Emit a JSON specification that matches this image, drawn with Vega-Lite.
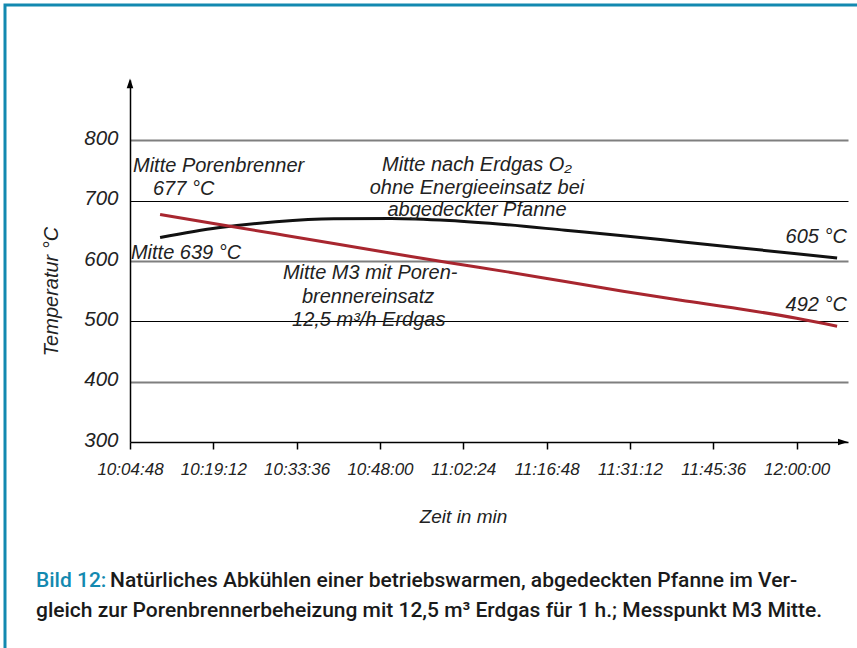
{
  "$schema": "https://vega.github.io/schema/vega-lite/v6.json",
  "width": 852,
  "height": 643,
  "autosize": {"type": "none"},
  "padding": {"left": 5, "top": 5, "right": 0, "bottom": 0},
  "background": "white",
  "config": {
    "view": {"stroke": "#1389b0", "strokeWidth": 3, "strokeDash": [852, 1495, 643]},
    "font": "Liberation Sans",
    "axis": {"labelFontStyle": "italic", "titleFontStyle": "italic"}
  },
  "layer": [
    {
      "data": {"values": [
        {"t": "2020-01-01T10:10:00", "v": 639, "s": "ohne"},
        {"t": "2020-01-01T10:20:00", "v": 655, "s": "ohne"},
        {"t": "2020-01-01T10:30:00", "v": 665, "s": "ohne"},
        {"t": "2020-01-01T10:40:00", "v": 670, "s": "ohne"},
        {"t": "2020-01-01T10:50:00", "v": 670.5, "s": "ohne"},
        {"t": "2020-01-01T11:00:00", "v": 667, "s": "ohne"},
        {"t": "2020-01-01T11:10:00", "v": 660, "s": "ohne"},
        {"t": "2020-01-01T11:20:00", "v": 651, "s": "ohne"},
        {"t": "2020-01-01T11:30:00", "v": 642, "s": "ohne"},
        {"t": "2020-01-01T11:40:00", "v": 632, "s": "ohne"},
        {"t": "2020-01-01T11:50:00", "v": 622, "s": "ohne"},
        {"t": "2020-01-01T12:00:00", "v": 612, "s": "ohne"},
        {"t": "2020-01-01T12:07:00", "v": 605, "s": "ohne"},
        {"t": "2020-01-01T10:10:00", "v": 677, "s": "mit"},
        {"t": "2020-01-01T10:20:00", "v": 661, "s": "mit"},
        {"t": "2020-01-01T10:30:00", "v": 645, "s": "mit"},
        {"t": "2020-01-01T10:40:00", "v": 629, "s": "mit"},
        {"t": "2020-01-01T10:50:00", "v": 613, "s": "mit"},
        {"t": "2020-01-01T11:00:00", "v": 597, "s": "mit"},
        {"t": "2020-01-01T11:10:00", "v": 582, "s": "mit"},
        {"t": "2020-01-01T11:20:00", "v": 566, "s": "mit"},
        {"t": "2020-01-01T11:30:00", "v": 550, "s": "mit"},
        {"t": "2020-01-01T11:40:00", "v": 535, "s": "mit"},
        {"t": "2020-01-01T11:50:00", "v": 521, "s": "mit"},
        {"t": "2020-01-01T12:00:00", "v": 505, "s": "mit"},
        {"t": "2020-01-01T12:07:00", "v": 492, "s": "mit"}
      ]},
      "mark": {"type": "line", "strokeWidth": 3, "interpolate": "monotone"},
      "encoding": {
        "x": {
          "field": "t", "type": "temporal",
          "scale": {
            "domain": [
              {"year": 2020, "month": 1, "date": 1, "hours": 10, "minutes": 4, "seconds": 48},
              {"year": 2020, "month": 1, "date": 1, "hours": 12, "minutes": 8, "seconds": 53}
            ],
            "range": [125, 843], "nice": false
          },
          "axis": {
            "values": [
              {"year": 2020, "month": 1, "date": 1, "hours": 10, "minutes": 4, "seconds": 48},
              {"year": 2020, "month": 1, "date": 1, "hours": 10, "minutes": 19, "seconds": 12},
              {"year": 2020, "month": 1, "date": 1, "hours": 10, "minutes": 33, "seconds": 36},
              {"year": 2020, "month": 1, "date": 1, "hours": 10, "minutes": 48, "seconds": 0},
              {"year": 2020, "month": 1, "date": 1, "hours": 11, "minutes": 2, "seconds": 24},
              {"year": 2020, "month": 1, "date": 1, "hours": 11, "minutes": 16, "seconds": 48},
              {"year": 2020, "month": 1, "date": 1, "hours": 11, "minutes": 31, "seconds": 12},
              {"year": 2020, "month": 1, "date": 1, "hours": 11, "minutes": 45, "seconds": 36},
              {"year": 2020, "month": 1, "date": 1, "hours": 12, "minutes": 0, "seconds": 0}
            ],
            "format": "%H:%M:%S",
            "orient": "bottom",
            "offset": -206,
            "grid": false,
            "domainColor": "#000000", "domainWidth": 1.5,
            "tickColor": "#000000", "tickWidth": 1.5, "tickSize": 7,
            "labelFont": "Liberation Sans", "labelFontStyle": "italic", "labelFontSize": 17,
            "labelColor": "#222222", "labelPadding": 12, "labelAngle": 0,
            "labelOverlap": false, "labelFlush": false,
            "title": "Zeit in min",
            "titleFont": "Liberation Sans", "titleFontStyle": "italic", "titleFontWeight": "normal",
            "titleFontSize": 19, "titleColor": "#222222",
            "titleX": 458, "titleY": 80, "titleBaseline": "alphabetic", "titleAlign": "center"
          }
        },
        "y": {
          "field": "v", "type": "quantitative",
          "scale": {"domain": [300, 900], "range": [437, 75], "nice": false, "zero": false},
          "axis": {
            "values": [300, 400, 500, 600, 700, 800],
            "orient": "left",
            "offset": -125,
            "grid": true,
            "gridColor": {"condition": {"test": "datum.value == 400 || datum.value == 600 || datum.value == 800", "value": "#7f7f7f"}, "value": "#000000"},
            "gridWidth": {"condition": {"test": "datum.value == 400 || datum.value == 600 || datum.value == 800", "value": 2.2}, "value": 1.2},
            "gridOpacity": {"condition": {"test": "datum.value == 300", "value": 0}, "value": 1},
            "domainColor": "#000000", "domainWidth": 1.5,
            "ticks": false, "tickSize": 0,
            "labelFont": "Liberation Sans", "labelFontStyle": "italic", "labelFontSize": 20.5,
            "labelColor": "#222222", "labelPadding": 12,
            "labelBaseline": "alphabetic", "labelOffset": 4,
            "title": "Temperatur °C",
            "titleFont": "Liberation Sans", "titleFontStyle": "italic", "titleFontWeight": "normal",
            "titleFontSize": 20, "titleColor": "#222222",
            "titleAngle": 270, "titleX": -73, "titleY": 286, "titleBaseline": "alphabetic", "titleAlign": "center"
          }
        },
        "color": {
          "field": "s", "type": "nominal",
          "scale": {"domain": ["ohne", "mit"], "range": ["#111111", "#a8262f"]},
          "legend": null
        }
      }
    },
    {
      "data": {"values": [{"t": "2020-01-01T10:04:48", "v": 893.5}]},
      "mark": {"type": "point", "filled": true, "color": "#000000", "opacity": 1, "size": 121, "shape": "M0,-1L0.6,0.8L-0.6,0.8Z"},
      "encoding": {"x": {"field": "t", "type": "temporal"}, "y": {"field": "v", "type": "quantitative"}}
    },
    {
      "data": {"values": [{"t": "2020-01-01T12:07:55", "v": 300}]},
      "mark": {"type": "point", "filled": true, "color": "#000000", "opacity": 1, "size": 121, "shape": "M1,0L-0.8,0.6L-0.8,-0.6Z"},
      "encoding": {"x": {"field": "t", "type": "temporal"}, "y": {"field": "v", "type": "quantitative"}}
    },
    {
      "data": {"values": [
        {"t": "2020-01-01T10:05:19", "v": 747.8, "label": "Mitte Porenbrenner"},
        {"t": "2020-01-01T10:08:46", "v": 709.6, "label": "677 °C"},
        {"t": "2020-01-01T10:04:58", "v": 603.5, "label": "Mitte 639 °C"},
        {"t": "2020-01-01T10:31:14", "v": 570.3, "label": "Mitte M3 mit Poren-"},
        {"t": "2020-01-01T10:34:31", "v": 530.5, "label": "brennereinsatz"},
        {"t": "2020-01-01T10:32:48", "v": 492.4, "label": "12,5 m³/h Erdgas"}
      ]},
      "mark": {"type": "text", "align": "left", "baseline": "alphabetic", "font": "Liberation Sans", "fontStyle": "italic", "fontSize": 20, "color": "#222222"},
      "encoding": {"x": {"field": "t", "type": "temporal"}, "y": {"field": "v", "type": "quantitative"}, "text": {"field": "label"}}
    },
    {
      "data": {"values": [
        {"t": "2020-01-01T11:04:46", "v": 748.6, "label": "Mitte nach Erdgas O₂"},
        {"t": "2020-01-01T11:04:46", "v": 711.3, "label": "ohne Energieeinsatz bei"},
        {"t": "2020-01-01T11:04:46", "v": 674.8, "label": "abgedeckter Pfanne"}
      ]},
      "mark": {"type": "text", "align": "center", "baseline": "alphabetic", "font": "Liberation Sans", "fontStyle": "italic", "fontSize": 20, "color": "#222222"},
      "encoding": {"x": {"field": "t", "type": "temporal"}, "y": {"field": "v", "type": "quantitative"}, "text": {"field": "label"}}
    },
    {
      "data": {"values": [
        {"t": "2020-01-01T12:08:42", "v": 630, "label": "605 °C"},
        {"t": "2020-01-01T12:08:42", "v": 516.4, "label": "492 °C"}
      ]},
      "mark": {"type": "text", "align": "right", "baseline": "alphabetic", "font": "Liberation Sans", "fontStyle": "italic", "fontSize": 20, "color": "#222222"},
      "encoding": {"x": {"field": "t", "type": "temporal"}, "y": {"field": "v", "type": "quantitative"}, "text": {"field": "label"}}
    },
    {
      "data": {"values": [
        {"t": "2020-01-01T09:48:33", "v": 59.5, "label": "Bild 12:"}
      ]},
      "mark": {"type": "text", "align": "left", "baseline": "alphabetic", "font": "Roboto", "fontWeight": 500, "fontSize": 21, "color": "#1389b0"},
      "encoding": {"x": {"field": "t", "type": "temporal"}, "y": {"field": "v", "type": "quantitative"}, "text": {"field": "label"}}
    },
    {
      "data": {"values": [
        {"t": "2020-01-01T10:01:21", "v": 59.5, "label": "Natürliches Abkühlen einer betriebswarmen, abgedeckten Pfanne im Ver-"},
        {"t": "2020-01-01T09:48:33", "v": 9.8, "label": "gleich zur Porenbrennerbeheizung mit 12,5 m³ Erdgas für 1 h.; Messpunkt M3 Mitte."}
      ]},
      "mark": {"type": "text", "align": "left", "baseline": "alphabetic", "font": "Roboto", "fontWeight": 500, "fontSize": 21, "color": "#1a1a1a"},
      "encoding": {"x": {"field": "t", "type": "temporal"}, "y": {"field": "v", "type": "quantitative"}, "text": {"field": "label"}}
    }
  ]
}
